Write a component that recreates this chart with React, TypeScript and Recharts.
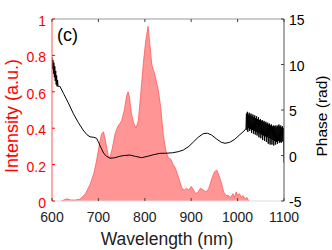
import {
  ComposedChart,
  Area,
  Line,
  XAxis,
  YAxis,
  ReferenceLine,
} from "recharts";

const FONT = "Liberation Sans, Arial, sans-serif";
const PLOT_TOP = 19;
const PLOT_BOTTOM = 201;

const xTicks = [600, 700, 800, 900, 1000, 1100];
const intensityTicks = [0, 0.2, 0.4, 0.6, 0.8, 1];
const phaseTicks = [-5, 0, 5, 10, 15];

const intensityNm = [
  620, 625, 632, 640, 650, 660, 665, 672, 682, 690, 696, 702, 707, 711, 716,
  721, 725, 730, 736, 742, 750, 756, 761, 764, 767, 771, 776, 781, 786, 791,
  797, 802, 807, 811, 815, 822, 829, 834, 840, 845, 850, 856, 861, 866, 870,
  875, 880, 885, 890, 895, 900, 905, 910, 915, 920, 926, 932, 938, 944, 950,
  955, 960, 965, 970, 975, 980, 985, 990, 993, 997, 1000, 1004, 1008, 1012,
  1016, 1020, 1024,
];
const intensityVal = [
  0, 0.005, 0.012, 0.006, 0.005, 0.01, 0.02, 0.04, 0.09, 0.15, 0.22, 0.31,
  0.37, 0.38, 0.32, 0.25, 0.24, 0.29, 0.37, 0.41, 0.44, 0.5, 0.58, 0.6, 0.57,
  0.48, 0.43, 0.4, 0.44, 0.58, 0.76, 0.88, 0.96, 0.86, 0.75, 0.69, 0.61, 0.52,
  0.36, 0.28, 0.24, 0.23, 0.2, 0.18, 0.15, 0.11, 0.07, 0.06, 0.07, 0.06, 0.08,
  0.06, 0.04, 0.05, 0.07, 0.06, 0.05, 0.07, 0.12, 0.16, 0.17, 0.14, 0.1, 0.05,
  0.03, 0.03, 0.02, 0.04, 0.02, 0.05, 0.03, 0.04, 0.02, 0.03, 0.01, 0.02, 0,
];

const phaseNm = [
  600, 601, 602, 603, 604, 605, 606, 607, 608, 609, 610, 611, 612, 613, 617,
  625, 635, 646, 657, 667, 675, 682, 690, 696, 700, 705, 712, 718, 725, 735,
  745, 755, 768, 780, 793, 805, 820, 833, 845, 860, 872, 883, 895, 905, 915,
  926, 935, 944, 955, 965, 973, 983, 994, 1005, 1016,
  1018, 1019, 1020, 1021, 1022, 1023, 1024, 1025, 1026, 1027, 1028, 1029,
  1030, 1031, 1032, 1033, 1034, 1035, 1036, 1037, 1038, 1039, 1040, 1041,
  1042, 1043, 1044, 1045, 1046, 1047, 1048, 1049, 1050, 1051, 1052, 1053,
  1054, 1055, 1056, 1057, 1058, 1059, 1060, 1061, 1062, 1063, 1064, 1065,
  1066, 1067, 1068, 1069, 1070, 1071, 1072, 1073, 1074, 1075, 1076, 1077,
  1078, 1079, 1080, 1081, 1082, 1083, 1084, 1085, 1086, 1087, 1088, 1089,
  1090, 1091, 1092, 1093, 1094, 1095, 1096, 1097, 1098, 1099, 1100,
];
const phaseRad = [
  10.8, 9.5, 10.5, 9.0, 10.2, 8.6, 9.8, 8.2, 9.3, 7.8, 8.8, 7.6, 8.3, 7.6, 7.6,
  6.8, 5.8, 4.6, 3.6, 2.8, 2.3, 2.05, 2.0, 1.9, 1.5, 0.9, 0.2, -0.1, -0.3,
  -0.25, -0.1, 0.0, 0.05, -0.1, -0.24, -0.1, 0.1, 0.24, 0.25, 0.3, 0.42, 0.6,
  1.0, 1.5, 2.0, 2.4, 2.45, 2.25, 1.8, 1.45, 1.34, 1.45, 1.78, 2.3, 2.8,
  3.0, 4.6, 2.8, 4.8, 2.6, 4.5, 3.0, 4.7, 2.7, 4.4, 2.9, 4.6,
  2.5, 4.3, 2.8, 4.5, 2.4, 4.2, 2.7, 4.4, 2.3, 4.1, 2.6, 4.3,
  2.2, 4.0, 2.5, 4.2, 2.0, 3.9, 2.4, 4.0, 1.9, 3.8, 2.3, 3.9,
  1.7, 3.7, 2.2, 3.8, 1.6, 3.6, 2.1, 3.7, 1.5, 3.5, 2.0, 3.6,
  1.3, 3.4, 1.9, 3.5, 1.2, 3.3, 1.8, 3.4, 1.2, 3.2, 1.7, 3.3,
  1.1, 3.2, 1.6, 3.3, 1.2, 3.1, 1.5, 3.3, 1.3, 3.2, 1.6, 3.4,
  1.4, 3.2, 1.5, 3.3, 1.4, 3.1, 1.6, 3.2, 1.5, 3.0, -0.8,
];

type Row = { nm: number; intensity?: number; phase?: number };
const rowMap = new Map<number, Row>();
intensityNm.forEach((nm, i) => {
  const r = rowMap.get(nm) ?? { nm };
  r.intensity = intensityVal[i];
  rowMap.set(nm, r);
});
phaseNm.forEach((nm, i) => {
  const r = rowMap.get(nm) ?? { nm };
  r.phase = phaseRad[i];
  rowMap.set(nm, r);
});
const data = [...rowMap.values()].sort((a, b) => a.nm - b.nm);

const LeftTick = ({ x, y, payload }: any) => (
  <g>
    <line x1={x} x2={x + 3} y1={y} y2={y} stroke="#ff0000" />
    <text x={x - 6} y={y + 7} textAnchor="end" fill="#ff0000" fontSize={14} fontFamily={FONT}>
      {String(payload.value)}
    </text>
  </g>
);

const RightTick = ({ x, y, payload }: any) => (
  <g>
    <line x1={x - 3} x2={x} y1={y} y2={y} stroke="#444" />
    <text x={x + 5} y={y + 6} textAnchor="start" fill="#000" fontSize={14} fontFamily={FONT}>
      {String(payload.value)}
    </text>
  </g>
);

const BottomTick = ({ x, y, payload }: any) => (
  <g>
    <line x1={x} x2={x} y1={y} y2={y - 3} stroke="#444" />
    <line x1={x} x2={x} y1={PLOT_TOP} y2={PLOT_TOP + 3} stroke="#444" />
    <text x={x} y={y + 21} textAnchor="middle" fill="#222" fontSize={14} fontFamily={FONT}>
      {String(payload.value)}
    </text>
  </g>
);

export default function App() {
  return (
    <div style={{ position: "absolute", left: 0, top: 0, width: 332, height: 250 }}>
      <ComposedChart
        width={332}
        height={250}
        data={data}
        margin={{ top: PLOT_TOP, right: 0, bottom: 0, left: 0 }}
      >
        <XAxis
          dataKey="nm"
          type="number"
          domain={[600, 1100]}
          ticks={xTicks}
          allowDataOverflow
          height={250 - PLOT_BOTTOM - PLOT_TOP > 0 ? 250 - PLOT_BOTTOM : 49}
          tickSize={0}
          tickMargin={0}
          tickLine={false}
          axisLine={{ stroke: "#dddddd" }}
          tick={<BottomTick />}
        />
        <YAxis
          yAxisId="left"
          domain={[0, 1]}
          ticks={intensityTicks}
          width={52}
          tickSize={0}
          tickMargin={0}
          tickLine={false}
          axisLine={{ stroke: "#ff5555" }}
          tick={<LeftTick />}
        />
        <YAxis
          yAxisId="right"
          orientation="right"
          domain={[-5, 15]}
          ticks={phaseTicks}
          width={48}
          tickSize={0}
          tickMargin={0}
          tickLine={false}
          axisLine={{ stroke: "#555" }}
          tick={<RightTick />}
        />
        <ReferenceLine yAxisId="left" y={1} stroke="#999" />
        <Area
          yAxisId="left"
          dataKey="intensity"
          type="linear"
          connectNulls
          fill="#ff9595"
          fillOpacity={1}
          stroke="#ff5a5a"
          strokeWidth={0.8}
          isAnimationActive={false}
        />
        <Line
          yAxisId="right"
          dataKey="phase"
          type="linear"
          connectNulls
          stroke="#000"
          strokeWidth={1}
          dot={false}
          isAnimationActive={false}
        />
      </ComposedChart>
      <svg
        width={332}
        height={250}
        style={{ position: "absolute", left: 0, top: 0, pointerEvents: "none" }}
      >
        <text x={57} y={41} fontSize={18} fontFamily={FONT} fill="#000">
          (c)
        </text>
        <text
          transform="translate(18,116) rotate(-90)"
          textAnchor="middle"
          fontSize={18}
          fontFamily={FONT}
          fill="#ff0000"
        >
          Intensity (a.u.)
        </text>
        <text
          transform="translate(327,116) rotate(-90)"
          textAnchor="middle"
          fontSize={15.5}
          fontFamily={FONT}
          fill="#000"
        >
          Phase (rad)
        </text>
        <text x={167} y={245} textAnchor="middle" fontSize={17.5} fontFamily={FONT} fill="#222">
          Wavelength (nm)
        </text>
      </svg>
    </div>
  );
}
